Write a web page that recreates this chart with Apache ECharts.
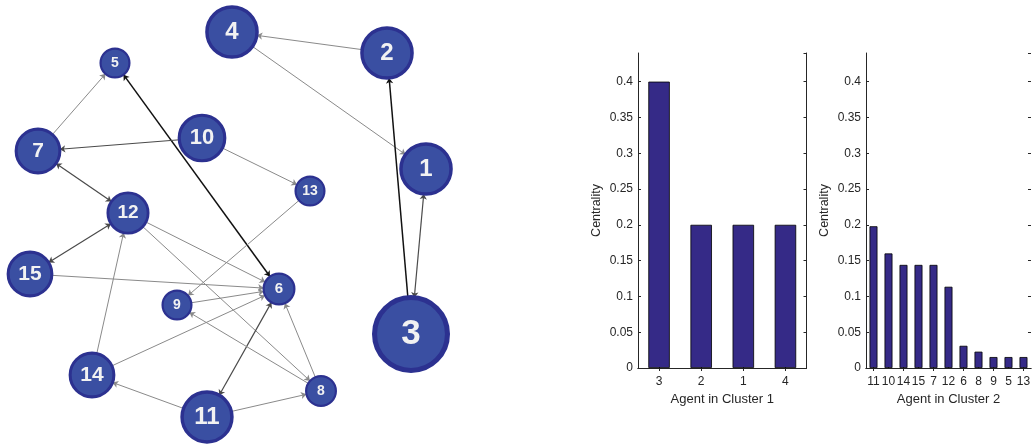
<!DOCTYPE html>
<html>
<head>
<meta charset="utf-8">
<script src="https://cdn.jsdelivr.net/npm/echarts@6/dist/echarts.min.js"></script>
<style>
html,body{margin:0;padding:0;background:#fff;}
#main{width:1033px;height:448px;}
</style>
</head>
<body>
<div id="main"></div>
<script>
// ---- data ----
const nodeIds = ['1','2','3','4','5','6','7','8','9','10','11','12','13','14','15'];
const nodeX = [426, 387, 411, 232, 115, 279, 38, 321, 177, 202, 207, 128, 310, 92, 30];
const nodeY = [169, 53, 334, 32, 63, 289, 151, 391, 305, 138, 417, 213, 191, 375, 274];
const nodeCentrality = [0.2, 0.2, 0.4, 0.2, 0.0153, 0.031, 0.144, 0.0228, 0.0153, 0.16, 0.198, 0.1135, 0.0153, 0.144, 0.144];
// edges: source, target, bidirectional flag, tone (0 light gray, 1 dark gray, 2 black)
const edgeSource = ['2','4','3','3','5','7','10','10','7','12','12','12','15','13','9','14','14','11','11','11','8','8'];
const edgeTarget = ['4','1','2','1','6','5','7','13','12','15','6','8','6','9','6','6','12','14','8','6','6','9'];
const edgeBoth   = [0,0,0,1,1,0,0,0,1,1,0,0,0,0,0,0,0,0,0,1,0,0];
const edgeTone   = [0,0,2,1,2,0,1,0,1,1,0,0,0,0,0,0,0,0,0,1,0,0];

const cats1 = ['3','2','1','4'];
const vals1 = [0.4, 0.2, 0.2, 0.2];
const cats2 = ['11','10','14','15','7','12','6','8','9','5','13'];
const vals2 = [0.198, 0.16, 0.144, 0.144, 0.144, 0.1135, 0.031, 0.0228, 0.0153, 0.0153, 0.0153];

// ---- styles ----
const toneColor = ['#8a8a8a', '#4a4a4a', '#111111'];
const toneWidth = [1, 1.2, 1.5];
const axisCol = '#262626';
const fam = 'Liberation Sans';

const nodes = nodeIds.map((id, i) => {
  const r = 14.6 + 61 * nodeCentrality[i];
  const bw = Math.max(2.2, r * 0.13);
  return {
    name: id,
    value: [nodeX[i], nodeY[i]],
    symbolSize: 2 * r - bw,
    itemStyle: { color: '#3a4fa2', borderColor: '#2c3190', borderWidth: bw },
    label: { fontSize: Math.round(0.9 * r) }
  };
});
const links = edgeSource.map((s, i) => ({
  source: s,
  target: edgeTarget[i],
  symbol: edgeBoth[i] ? ['arrow', 'arrow'] : ['none', 'arrow'],
  symbolSize: 5.5,
  lineStyle: { color: toneColor[edgeTone[i]], width: toneWidth[edgeTone[i]], opacity: 1 }
}));

function barX(gi, cats, name) {
  return [{
    type: 'category', gridIndex: gi, data: cats, position: 'bottom',
    axisLine: { show: true, lineStyle: { color: axisCol, width: 1 } },
    axisTick: { show: true, inside: true, alignWithLabel: true, length: 3, lineStyle: { color: axisCol } },
    axisLabel: { color: axisCol, fontSize: 12, fontFamily: fam, margin: 8, interval: 0 },
    name: name, nameLocation: 'middle', nameGap: 25,
    nameTextStyle: { color: axisCol, fontSize: 13, fontFamily: fam }
  }, {
    type: 'category', gridIndex: gi, data: cats, position: 'top',
    axisLine: { show: true, lineStyle: { color: axisCol, width: 1 } },
    axisTick: { show: true, inside: true, alignWithLabel: true, length: 3, lineStyle: { color: axisCol } },
    axisLabel: { show: false }
  }];
}
function barY(gi, showRightLine) {
  return [{
    type: 'value', gridIndex: gi, min: 0, max: 0.44, interval: 0.05, position: 'left',
    splitLine: { show: false },
    axisLine: { show: true, lineStyle: { color: axisCol, width: 1 } },
    axisTick: { show: true, inside: true, length: 3, lineStyle: { color: axisCol } },
    axisLabel: { color: axisCol, fontSize: 12, fontFamily: fam, margin: 5, showMaxLabel: false },
    name: 'Centrality', nameLocation: 'middle', nameGap: 35, nameRotate: 90,
    nameTextStyle: { color: axisCol, fontSize: 12.5, fontFamily: fam }
  }, {
    type: 'value', gridIndex: gi, min: 0, max: 0.44, interval: 0.05, position: 'right',
    splitLine: { show: false },
    axisLine: { show: showRightLine, lineStyle: { color: axisCol, width: 1 } },
    axisTick: { show: true, inside: true, length: 3, lineStyle: { color: axisCol } },
    axisLabel: { show: false }
  }];
}

const chart = echarts.init(document.getElementById('main'), null, { renderer: 'canvas' });
chart.setOption({
  animation: false,
  backgroundColor: '#fff',
  grid: [
    { left: 0, top: 0, width: 460, height: 448 },
    { left: 638, top: 53, width: 168.5, height: 315 },
    { left: 866, top: 53, width: 168.5, height: 315 }
  ],
  xAxis: [
    { type: 'value', gridIndex: 0, min: 0, max: 460, show: false },
    ...barX(1, cats1, 'Agent in Cluster 1'),
    ...barX(2, cats2, 'Agent in Cluster 2')
  ],
  yAxis: [
    { type: 'value', gridIndex: 0, min: 0, max: 448, inverse: true, show: false },
    ...barY(1, true),
    ...barY(2, false)
  ],
  series: [
    {
      type: 'graph', coordinateSystem: 'cartesian2d', xAxisIndex: 0, yAxisIndex: 0,
      data: nodes, links: links,
      label: { show: true, position: 'inside', color: '#f2f2f2', fontWeight: 'bold', fontFamily: fam },
      z: 2
    },
    {
      type: 'bar', xAxisIndex: 1, yAxisIndex: 1, data: vals1, barWidth: '51%',
      itemStyle: { color: '#352a87', borderColor: '#000', borderWidth: 0.8 }
    },
    {
      type: 'bar', xAxisIndex: 3, yAxisIndex: 3, data: vals2, barWidth: '53%',
      itemStyle: { color: '#352a87', borderColor: '#000', borderWidth: 0.8 }
    }
  ]
});
</script>
</body>
</html>
